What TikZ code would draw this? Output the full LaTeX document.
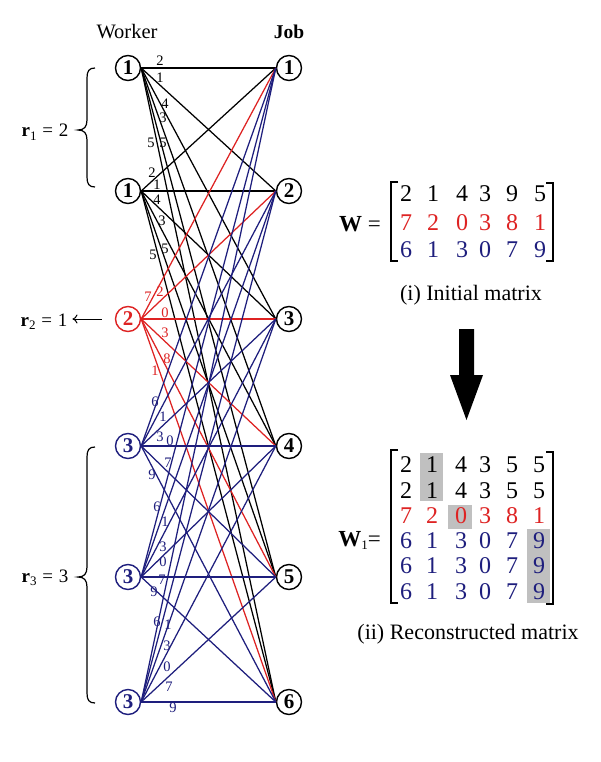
\documentclass[tikz,border=0pt]{standalone}
\usepackage{fontspec}
\setmainfont{Liberation Serif}
\usetikzlibrary{arrows.meta}
\definecolor{myred}{RGB}{222,35,35}
\definecolor{myblue}{RGB}{30,30,125}
\definecolor{mygray}{RGB}{192,192,192}
\newcommand{\fsz}[1]{\fontsize{#1}{#1}\selectfont}
\newcommand{\lsub}[1]{\raisebox{-0.35ex}{\fontsize{13}{13}\selectfont #1}}
\begin{document}
\begin{tikzpicture}[x=1pt,y=-1pt,
  vtx/.style={circle,draw,line width=1.4pt,minimum size=25pt,inner sep=0pt,font=\fsz{21}\bfseries},
  elab/.style={inner sep=0pt,font=\fsz{14.5}},
  ent/.style={inner sep=0pt,font=\fsz{24}},
  txt/.style={inner sep=0pt},
  edg/.style={line width=1.25pt},
  brk/.style={line width=1.3pt},
  brc/.style={line width=1.2pt}]
\useasboundingbox (0,0) rectangle (600,762);
\fill[white] (0,0) rectangle (600,762);

% headers
\node[txt,anchor=base,font=\fsz{20.5}] (hw) at (127,38.5) {Worker};
\node[txt,anchor=base,font=\fsz{19.5}\bfseries] (hj) at (289,38.5) {Job};

% worker nodes
\node[vtx] (w1) at (128,68) {1};
\node[vtx] (w2) at (128,191) {1};
\node[vtx,myred] (w3) at (128,319) {2};
\node[vtx,myblue] (w4) at (128,446) {3};
\node[vtx,myblue] (w5) at (128,577) {3};
\node[vtx,myblue] (w6) at (128,702) {3};
% job nodes
\node[vtx] (j1) at (289,68) {1};
\node[vtx] (j2) at (289,191) {2};
\node[vtx] (j3) at (289,319) {3};
\node[vtx] (j4) at (289,446) {4};
\node[vtx] (j5) at (289,577) {5};
\node[vtx] (j6) at (289,702) {6};

% edges
\foreach \w/\c in {w1/black,w2/black,w3/myred,w4/myblue,w5/myblue,w6/myblue}{
  \foreach \j in {1,...,6}{
    \draw[edg,draw=\c] (\w.east) -- (j\j.west);
  }
}

% edge labels
\foreach [count=\i] \t/\x/\y in {2/160/61,1/160/78,4/165/104,3/163/118,5/163/143,5/151/143,
  2/152/173,1/157/185,4/157/200,3/162/221,5/165/249,5/153/255}
  \node[elab] (lk\i) at (\x,\y) {\t};
\foreach [count=\i] \t/\x/\y in {7/148/297,2/160/292,0/165/313,3/165/333,8/167/359,1/155/371}
  \node[elab,text=myred] (lr\i) at (\x,\y) {\t};
\foreach [count=\i] \t/\x/\y in {6/155/402,1/163/417,3/160/437,0/170/441,7/168/463,9/152/475,
  6/157/507,1/165/522,3/163/547,0/163/562,7/162/580,9/154/592,
  6/157/622,1/168/625,3/167/646,0/167/667,7/169/687,9/173/708}
  \node[elab,text=myblue] (lb\i) at (\x,\y) {\t};

% braces and r labels
\draw[brc] (95,68) .. controls (89,68) and (87,71) .. (87,78) -- (87,120)
  .. controls (87,127) and (84,130) .. (78,130)
  .. controls (84,130) and (87,133) .. (87,140) -- (87,177)
  .. controls (87,184) and (89,187) .. (95,187);
\node[txt,anchor=base,font=\fsz{19}] (r1) at (45,137) {\textbf{r}\lsub{1}\hspace{0.3em}=\hspace{0.3em}2};

\node[txt,anchor=base,font=\fsz{19}] (r2) at (44,326) {\textbf{r}\lsub{2}\hspace{0.3em}=\hspace{0.3em}1};
\draw[line width=1pt,-{To[length=5pt,width=9pt]},shorten <=13pt,shorten >=5pt] (w3.west) -- (r2.east |- w3.west);

\draw[brc] (95,447) .. controls (89,447) and (87,450) .. (87,457) -- (87,567)
  .. controls (87,574) and (84,577) .. (78,577)
  .. controls (84,577) and (87,580) .. (87,587) -- (87,693)
  .. controls (87,700) and (89,703) .. (95,703);
\node[txt,anchor=base,font=\fsz{19}] (r3) at (45,582) {\textbf{r}\lsub{3}\hspace{0.3em}=\hspace{0.3em}3};

% initial matrix W
\node[txt,anchor=base east,font=\fsz{23}] (wl) at (381,231) {\textbf{W} =};
\draw[brk] (398,182) -- (391,182) -- (391,261) -- (398,261);
\draw[brk] (546,183) -- (553,183) -- (553,261) -- (546,261);
\foreach [count=\i] \t/\x in {2/406,1/433,4/462,3/485,9/512,5/540}
  \node[ent] (wa\i) at (\x,194) {\t};
\foreach [count=\i] \t/\x in {7/406,2/433,0/462,3/485,8/512,1/540}
  \node[ent,text=myred] (wb\i) at (\x,222.5) {\t};
\foreach [count=\i] \t/\x in {6/406,1/433,3/462,0/485,7/512,9/540}
  \node[ent,text=myblue] (wc\i) at (\x,249.5) {\t};
\node[txt,anchor=base,font=\fsz{22}] (cap1) at (471,300) {(i) Initial matrix};

% big arrow
\fill (459,329) -- (474,329) -- (474,375) -- (483,375) -- (466.5,420) -- (450,375) -- (459,375) -- cycle;

% reconstructed matrix W1
\fill[mygray] (420,453) rectangle (443,501);
\fill[mygray] (448,505) rectangle (472,529);
\fill[mygray] (527,529) rectangle (550,603);
\node[txt,anchor=base east,font=\fsz{23}] (w1l) at (381,546) {\textbf{W}\lsub{1}=};
\draw[brk] (398,450) -- (391,450) -- (391,603) -- (398,603);
\draw[brk] (546,452) -- (553,452) -- (553,604) -- (546,604);
\foreach \r/\y in {1/465,2/491}{
  \foreach [count=\i] \t/\x in {2/406,1/432,4/461,3/485,5/512,5/539}
    \node[ent] (ma\r\i) at (\x,\y) {\t};
}
\foreach [count=\i] \t/\x in {7/406,2/432,0/461,3/485,8/512,1/539}
  \node[ent,text=myred] (mb\i) at (\x,516) {\t};
\foreach \r/\y in {4/541,5/566,6/592}{
  \foreach [count=\i] \t/\x in {6/406,1/432,3/461,0/485,7/512,9/539}
    \node[ent,text=myblue] (mc\r\i) at (\x,\y) {\t};
}
\node[txt,anchor=base,font=\fsz{22}] (cap2) at (468,639.5) {(ii) Reconstructed matrix};
\end{tikzpicture}
\end{document}
